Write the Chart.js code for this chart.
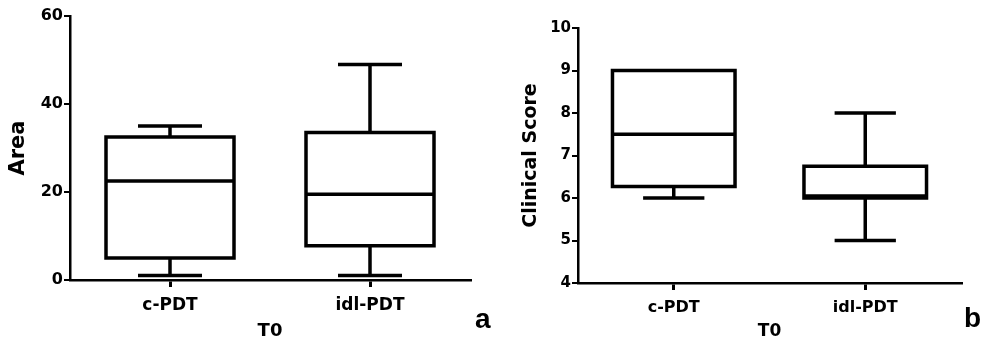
<!DOCTYPE html>
<html>
<head>
<meta charset="utf-8">
<script src="https://cdn.jsdelivr.net/npm/chart.js@4"></script>
<style>
  html, body { margin: 0; padding: 0; background: #fff; }
  #wrap { position: relative; width: 982px; height: 346px; }
  .panel { position: absolute; top: 0; width: 491px; height: 346px; }
  .tag { position: absolute; font: bold 28px "Liberation Sans", Arial, sans-serif; color: #000; line-height: 1; }
</style>
</head>
<body>
<div id="wrap">
  <div class="panel" style="left:0"><canvas id="chart-a" width="491" height="346"></canvas></div>
  <div class="panel" style="left:491px"><canvas id="chart-b" width="491" height="346"></canvas></div>
  <div class="tag" style="left:475px; top:305px">a</div>
  <div class="tag" style="left:964px; top:304px">b</div>
</div>
<script>
// categories
var groups = ['c-PDT', 'idl-PDT'];

// panel a: Area at T0 (min, q1, median, q3, max)
var areaMin    = [1, 1];
var areaQ1     = [5, 7.8];
var areaMedian = [22.5, 19.5];
var areaQ3     = [32.5, 33.5];
var areaMax    = [35, 49];

// panel b: Clinical Score at T0
var scoreMin    = [6, 5];
var scoreQ1     = [6.27, 6];
var scoreMedian = [7.5, 6.05];
var scoreQ3     = [9, 6.75];
var scoreMax    = [9, 8];

var FONT = '"DejaVu Sans", Verdana, sans-serif';

// box outline, whiskers and median, drawn from the bar elements and the y scale
var boxWhiskers = {
    id: 'boxWhiskers',
    afterDatasetsDraw: function (chart) {
        var st = chart.options.plugins.boxWhiskers;
        var y = chart.scales.y;
        var meta = chart.getDatasetMeta(0);
        var ctx = chart.ctx;
        ctx.save();
        ctx.strokeStyle = '#000';
        ctx.lineWidth = 3.5;
        ctx.lineCap = 'butt';
        ctx.lineJoin = 'miter';
        meta.data.forEach(function (bar, i) {
            var half = bar.width / 2;
            var cx = bar.x;
            var yMin = y.getPixelForValue(st.min[i]);
            var yQ1 = y.getPixelForValue(st.q1[i]);
            var yMed = y.getPixelForValue(st.median[i]);
            var yQ3 = y.getPixelForValue(st.q3[i]);
            var yMax = y.getPixelForValue(st.max[i]);
            ctx.beginPath();
            ctx.rect(cx - half, yQ3, half * 2, yQ1 - yQ3);
            ctx.stroke();
            ctx.beginPath();
            // median
            ctx.moveTo(cx - half, yMed); ctx.lineTo(cx + half, yMed);
            // whiskers and caps
            if (st.max[i] > st.q3[i]) {
                ctx.moveTo(cx, yQ3); ctx.lineTo(cx, yMax);
                ctx.moveTo(cx - half / 2, yMax); ctx.lineTo(cx + half / 2, yMax);
            }
            if (st.min[i] < st.q1[i]) {
                ctx.moveTo(cx, yQ1); ctx.lineTo(cx, yMin);
                ctx.moveTo(cx - half / 2, yMin); ctx.lineTo(cx + half / 2, yMin);
            }
            ctx.stroke();
        });
        ctx.restore();
    }
};

function makeBoxChart(id, q1, q3, stats, yOpts, yTitle, lay) {
    var boxes = q1.map(function (v, i) { return [v, q3[i]]; });
    return new Chart(document.getElementById(id), {
        type: 'bar',
        data: {
            labels: groups,
            datasets: [{
                data: boxes,
                backgroundColor: '#fff',
                borderWidth: 0,
                categoryPercentage: 1,
                barPercentage: 0.64
            }]
        },
        options: {
            responsive: false,
            animation: false,
            events: [],
            layout: { padding: { top: lay.top, right: lay.right, bottom: 0, left: 0 } },
            plugins: {
                legend: { display: false },
                tooltip: { enabled: false },
                boxWhiskers: stats
            },
            scales: {
                x: {
                    offset: true,
                    grid: { display: true, drawOnChartArea: false, drawTicks: true, tickLength: 7,
                            color: '#000', lineWidth: 3, offset: false },
                    border: { display: true, color: '#000', width: 2.5 },
                    ticks: { color: '#000', padding: lay.xTickPad,
                             font: { family: FONT, size: lay.xTickSize, weight: 'bold' } },
                    title: { display: true, text: 'T0', color: '#000', padding: { top: 0, bottom: lay.xTitlePad },
                             font: { family: FONT, size: lay.xTitleSize, weight: 'bold' } },
                    afterFit: function (s) { s.height = lay.xHeight; }
                },
                y: {
                    min: yOpts.min,
                    max: yOpts.max,
                    grid: { display: true, drawOnChartArea: false, drawTicks: true, tickLength: 6,
                            color: '#000', lineWidth: 2 },
                    border: { display: true, color: '#000', width: 2.5 },
                    ticks: { stepSize: yOpts.step, color: '#000', padding: 1,
                             font: { family: FONT, size: lay.yTickSize, weight: 'bold' } },
                    title: { display: true, text: yTitle, color: '#000',
                             padding: { top: lay.yTitlePad, bottom: 0 },
                             font: { family: FONT, size: lay.yTitleSize, weight: 'bold' } },
                    afterFit: function (s) { s.width = lay.yWidth; }
                }
            }
        },
        plugins: [boxWhiskers]
    });
}

makeBoxChart('chart-a', areaQ1, areaQ3,
    { min: areaMin, q1: areaQ1, median: areaMedian, q3: areaQ3, max: areaMax },
    { min: 0, max: 60, step: 20 }, 'Area',
    { top: 16, right: 21, xHeight: 66, yWidth: 70,
      yTickSize: 16, xTickSize: 17, xTitleSize: 18, yTitleSize: 21,
      xTickPad: 8, xTitlePad: 4, yTitlePad: 6 });

makeBoxChart('chart-b', scoreQ1, scoreQ3,
    { min: scoreMin, q1: scoreQ1, median: scoreMedian, q3: scoreQ3, max: scoreMax },
    { min: 4, max: 10, step: 1 }, 'Clinical Score',
    { top: 28, right: 21, xHeight: 63, yWidth: 87,
      yTickSize: 15, xTickSize: 16, xTitleSize: 17, yTitleSize: 19,
      xTickPad: 8, xTitlePad: 4, yTitlePad: 29 });
</script>
</body>
</html>
